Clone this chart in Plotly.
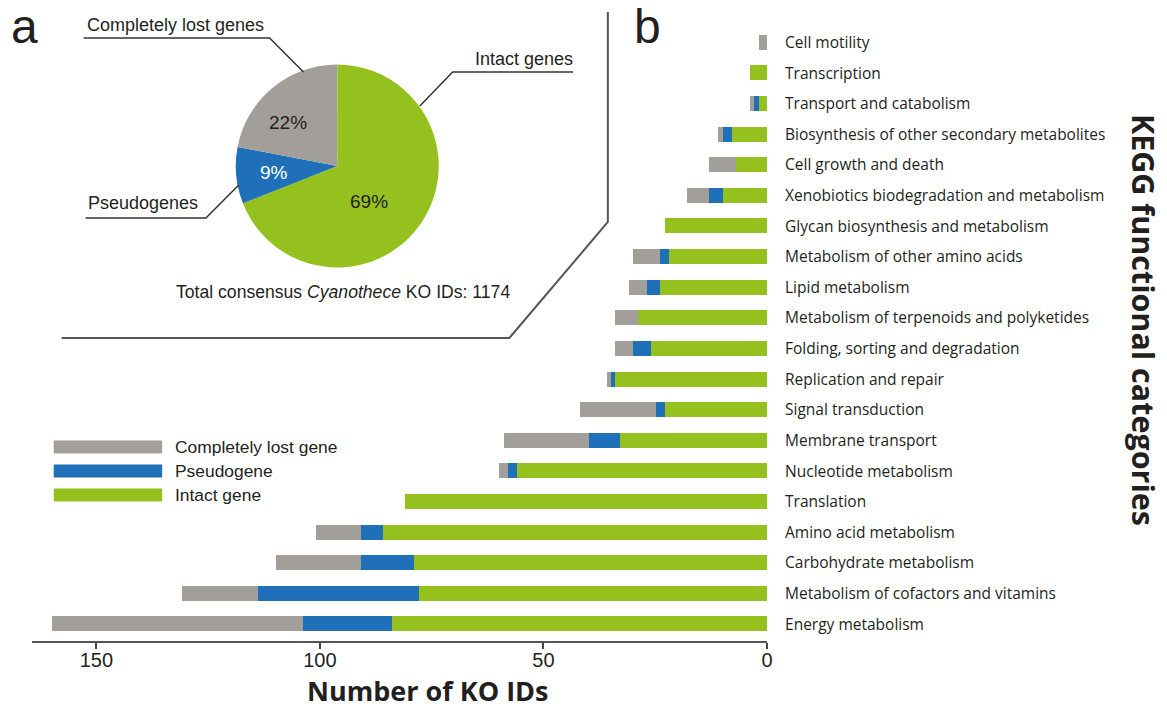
import plotly.graph_objects as go

W, H = 1167, 708

categories = [
    "Energy metabolism",
    "Metabolism of cofactors and vitamins",
    "Carbohydrate metabolism",
    "Amino acid metabolism",
    "Translation",
    "Nucleotide metabolism",
    "Membrane transport",
    "Signal transduction",
    "Replication and repair",
    "Folding, sorting and degradation",
    "Metabolism of terpenoids and polyketides",
    "Lipid metabolism",
    "Metabolism of other amino acids",
    "Glycan biosynthesis and metabolism",
    "Xenobiotics biodegradation and metabolism",
    "Cell growth and death",
    "Biosynthesis of other secondary metabolites",
    "Transport and catabolism",
    "Transcription",
    "Cell motility",
]
intact = [84, 78, 79, 86, 81, 56, 33, 23, 34, 26, 29, 24, 22, 23, 10, 7, 8, 2, 4, 0]
pseudo = [20, 36, 12, 5, 0, 2, 7, 2, 1, 4, 0, 3, 2, 0, 3, 0, 2, 1, 0, 0]
lost = [56, 17, 19, 10, 0, 2, 19, 17, 1, 4, 5, 4, 6, 0, 5, 6, 1, 1, 0, 2]

pie_labels = ["Intact genes", "Pseudogenes", "Completely lost genes"]
pie_values = [69, 9, 22]
total_ko = 1174

GRAY = "#A29E9A"
BLUE = "#1F70B8"
GREEN = "#95C11F"
TXT = "#231F20"


def px(x):
    return x / W


def py(y):
    return 1 - y / H


def note(text, x, y, size, family="Liberation Sans, Arial", color=TXT, xanchor="center", **kw):
    return dict(x=px(x), y=py(y), xref="paper", yref="paper", text=text, showarrow=False,
                xanchor=xanchor, yanchor="middle",
                font=dict(family=family, size=size, color=color), **kw)


fig = go.Figure()

for name, vals, col in [("Intact gene", intact, GREEN),
                        ("Pseudogene", pseudo, BLUE),
                        ("Completely lost gene", lost, GRAY)]:
    fig.add_trace(go.Bar(
        y=categories, x=vals, orientation="h", name=name,
        marker=dict(color=col, line=dict(width=0)), width=0.49,
        showlegend=False, xaxis="x", yaxis="y",
    ))

fig.add_trace(go.Pie(
    labels=pie_labels, values=pie_values, sort=False, direction="clockwise",
    rotation=0, textinfo="none", showlegend=False,
    marker=dict(colors=[GREEN, BLUE, GRAY], line=dict(width=0)),
    domain=dict(x=[px(237), px(441)], y=[py(268), py(64)]),
))

annotations = []
shapes = []

NARROW = "Liberation Sans Narrow, Liberation Sans"

# pie percentages
for txt, x, y, col in [("69%", 371, 201, TXT), ("9%", 275, 172, "white"), ("22%", 289, 123, TXT)]:
    annotations.append(note(txt, x, y, 19, family=NARROW, color=col))

# pie callouts
annotations.append(note("Completely lost genes", 85, 25, 18, family=NARROW, xanchor="left"))
annotations.append(note("Intact genes", 475, 59, 18, family=NARROW, xanchor="left"))
annotations.append(note("Pseudogenes", 86, 203, 18, family=NARROW, xanchor="left"))
for pts in [[(84, 38), (271, 38), (305, 72)],
            [(576, 72), (455, 72), (422, 106)],
            [(86, 218), (207, 218), (240, 185)]]:
    path = "M " + " L ".join(f"{px(a)},{py(b)}" for a, b in pts)
    shapes.append(dict(type="path", xref="paper", yref="paper", path=path,
                       line=dict(color="#333333", width=1.5)))

annotations.append(note(f"Total consensus <i>Cyanothece</i> KO IDs: {total_ko}", 345, 292, 17.6))

# panel separator
sep = [(611, 12), (611, 222), (512, 338), (62, 338)]
shapes.append(dict(type="path", xref="paper", yref="paper",
                   path="M " + " L ".join(f"{px(a)},{py(b)}" for a, b in sep),
                   line=dict(color="#555555", width=2)))

# panel letters
annotations.append(note("a", 25, 26, 48))
annotations.append(note("b", 651, 26, 48))

# legend for bars
for i, (name, col) in enumerate([("Completely lost gene", GRAY), ("Pseudogene", BLUE), ("Intact gene", GREEN)]):
    yc = 447 + 24 * i
    shapes.append(dict(type="rect", xref="paper", yref="paper", x0=px(54), x1=px(163),
                       y0=py(yc + 6.5), y1=py(yc - 6.5), fillcolor=col, line=dict(width=0)))
    annotations.append(note(name, 174, yc, 17.4, xanchor="left"))

# axis titles
annotations.append(note("<b>Number of KO IDs</b>", 430, 690, 27, family="Open Sans"))
annotations.append(note("<b>KEGG functional categories</b>", 1150, 320, 30.5, family="Open Sans", textangle=90))

fig.update_layout(
    width=W, height=H, autosize=False,
    margin=dict(l=0, r=0, t=0, b=0),
    paper_bgcolor="white", plot_bgcolor="white",
    barmode="stack", bargap=0,
    xaxis=dict(domain=[px(31.7), px(771)], range=[164.5, 0], showgrid=False, zeroline=False,
               tickvals=[0, 50, 100, 150], ticks="outside", ticklen=6, tickwidth=1.5, tickcolor="#444",
               showline=True, linecolor="#555555", linewidth=2, ticklabelstandoff=-6,
               tickfont=dict(family=NARROW, size=20, color=TXT)),
    yaxis=dict(domain=[py(640.7), py(27.2)], range=[-0.54, 19.5], side="right", showgrid=False,
               zeroline=False, showline=False, ticks="", ticklabelstandoff=17,
               categoryorder="array", categoryarray=categories,
               tickfont=dict(family="Open Sans", size=15.5, color=TXT)),
    annotations=annotations, shapes=shapes,
)

fig.write_html("out.html")
